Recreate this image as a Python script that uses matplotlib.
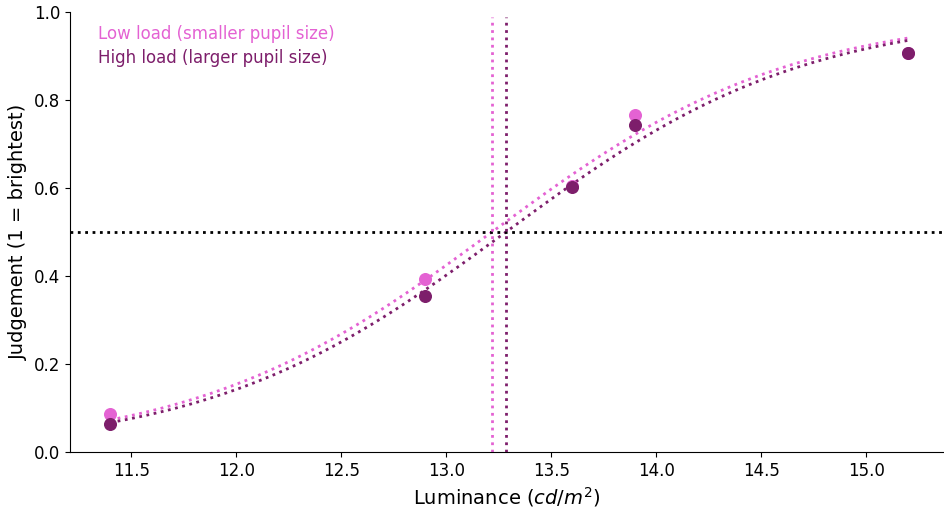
import numpy as np
import matplotlib
matplotlib.use("Agg")
import matplotlib.pyplot as plt

# luminance levels (cd/m^2) and mean judgements per condition
luminance = [11.4, 12.9, 13.6, 13.9, 15.2]
low_load = [0.086, 0.393, 0.604, 0.766, 0.907]
high_load = [0.064, 0.355, 0.602, 0.743, 0.907]

# fitted logistic parameters (midpoint, slope)
low_mid, low_slope = 13.216, 1.40
high_mid, high_slope = 13.283, 1.40

low_color = "#e462d3"
high_color = "#7d1e6b"


def logistic(x, mid, slope):
    return 1 / (1 + np.exp(-slope * (x - mid)))


fig, ax = plt.subplots(figsize=(9.44, 5.09), dpi=100)

xs = np.linspace(min(luminance), max(luminance), 200)
ax.plot(xs, logistic(xs, low_mid, low_slope), ':', color=low_color, lw=2)
ax.plot(xs, logistic(xs, high_mid, high_slope), ':', color=high_color, lw=2)

ax.scatter(luminance, low_load, s=70, color=low_color, zorder=3,
           label="Low load (smaller pupil size)")
ax.scatter(luminance, high_load, s=70, color=high_color, zorder=4,
           label="High load (larger pupil size)")

ax.axhline(0.5, color="black", ls=":", lw=2)
ax.axvline(low_mid, ymax=0.99, color=low_color, ls=":", lw=2)
ax.axvline(high_mid, ymax=0.99, color=high_color, ls=":", lw=2)

ax.set_xlim(11.207, 15.365)
ax.set_ylim(0, 1)
ax.set_xlabel("Luminance ($cd/m^2$)", fontsize=14)
ax.set_ylabel("Judgement (1 = brightest)", fontsize=14)
ax.tick_params(labelsize=12)
ax.spines["top"].set_visible(False)
ax.spines["right"].set_visible(False)

leg = ax.legend(loc="upper left", bbox_to_anchor=(0.015, 1.005),
                frameon=False, handlelength=0, handletextpad=0,
                markerscale=0, fontsize=12, labelspacing=0.35)
for handle in leg.legend_handles:
    handle.set_visible(False)
for text, c in zip(leg.get_texts(), [low_color, high_color]):
    text.set_color(c)

fig.subplots_adjust(left=0.074, right=0.999, top=0.976, bottom=0.112)
fig.savefig("out.png", dpi=100)
